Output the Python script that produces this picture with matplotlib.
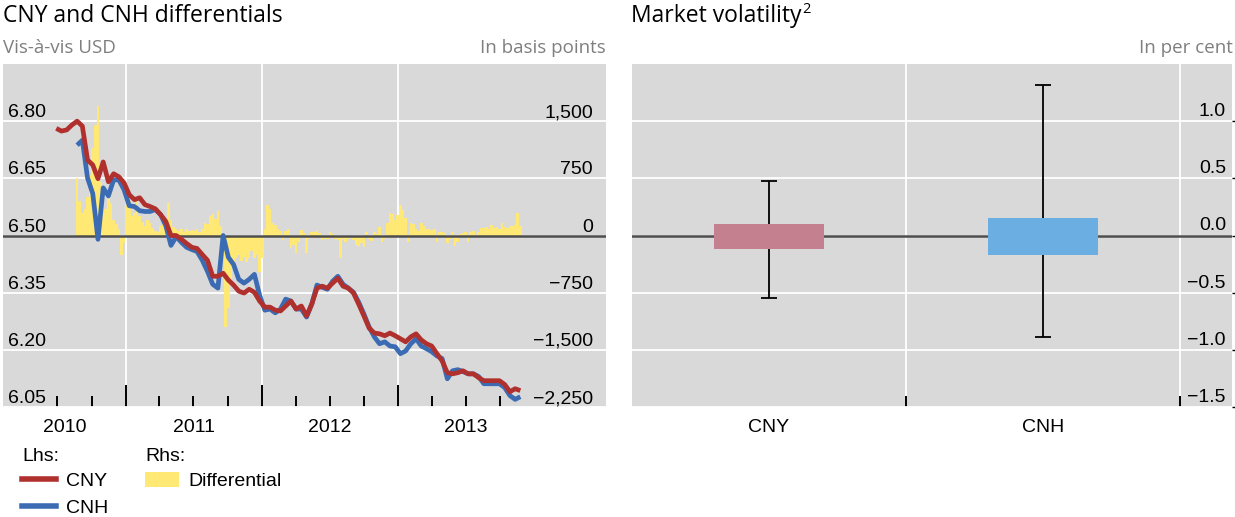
import matplotlib
matplotlib.use("Agg")
import matplotlib.pyplot as plt
import matplotlib.dates as mdates
import matplotlib.transforms as mtransforms
from matplotlib.lines import Line2D
from matplotlib.patches import Patch
import numpy as np
import pandas as pd

# ---------------- data ----------------
line_dates = pd.date_range("2010-06-28", periods=90, freq="14D")
cny = [6.781, 6.774, 6.777, 6.790, 6.800, 6.787, 6.698, 6.685, 6.649, 6.693,
       6.641, 6.662, 6.654, 6.638, 6.607, 6.594, 6.599, 6.581, 6.576, 6.570,
       6.555, 6.537, 6.500, 6.500, 6.490, 6.479, 6.469, 6.466, 6.450, 6.435,
       6.393, 6.393, 6.401, 6.383, 6.370, 6.354, 6.349, 6.359, 6.351, 6.328,
       6.312, 6.312, 6.304, 6.302, 6.315, 6.328, 6.307, 6.315, 6.289, 6.320,
       6.362, 6.367, 6.362, 6.375, 6.388, 6.367, 6.362, 6.349, 6.320, 6.289,
       6.257, 6.244, 6.242, 6.237, 6.244, 6.237, 6.229, 6.221, 6.234, 6.242,
       6.226, 6.216, 6.210, 6.190, 6.171, 6.140, 6.137, 6.140, 6.145, 6.137,
       6.137, 6.127, 6.119, 6.119, 6.119, 6.119, 6.109, 6.090, 6.098, 6.093]

cnh_dates = pd.date_range("2010-08-23", periods=86, freq="14D")
cnh = [6.737, 6.750, 6.651, 6.610, 6.490, 6.625,
       6.604, 6.646, 6.646, 6.620, 6.578, 6.576, 6.565, 6.563, 6.563, 6.568,
       6.555, 6.526, 6.474, 6.497, 6.482, 6.469, 6.463, 6.458, 6.435, 6.406,
       6.372, 6.362, 6.500, 6.443, 6.424, 6.385, 6.375, 6.385, 6.398, 6.343,
       6.304, 6.307, 6.297, 6.307, 6.333, 6.328, 6.307, 6.307, 6.286, 6.320,
       6.370, 6.364, 6.359, 6.380, 6.393, 6.372, 6.362, 6.351, 6.325, 6.294,
       6.260, 6.234, 6.216, 6.221, 6.210, 6.208, 6.190, 6.197, 6.216, 6.229,
       6.210, 6.203, 6.195, 6.184, 6.177, 6.124, 6.145, 6.148, 6.143, 6.137,
       6.137, 6.130, 6.111, 6.111, 6.111, 6.111, 6.101, 6.080, 6.070, 6.077]

diff_dates = pd.date_range("2010-08-23", periods=171, freq="7D")
differential = [750, 450, 300, 350, 500, 800, 1150, 1450, 1700, 700,
                450, 350, 480, 420, 200, 150, 80, -250, -100, 600,
                450, 250, 300, 470, 250, 180, 120, 200, 170, 100,
                60, 40, 120, 150, 200, 420, 200, 110, 80, 60,
                80, 50, 90, 60, 70, 60, 80, 50, 90, 170,
                150, 250, 280, 220, 320, 120, -100, -1200, -950, -600,
                -380, -300, -250, -330, -280, -350, -300, -200, -300, -250,
                -480, -300, 80, 400, 350, 170, 140, 90, 60, -60,
                60, 90, -160, -120, -230, -90, 70, 30, -230, -40,
                50, 40, 60, 30, -60, -50, -40, 40, 20, -50,
                -60, -300, -50, -80, -40, -30, -60, -130, -140, -100,
                -150, 50, -40, -70, 50, 20, 110, -80, -40, 160,
                300, 280, 200, 270, 400, 330, 230, -90, 160, 150,
                80, 60, 170, 120, 90, 80, 70, 90, -80, 40,
                50, 30, -100, -40, 50, -140, -90, 20, 30, 40,
                -80, 40, 60, -20, 50, 100, 100, 110, 90, 140,
                100, 110, 90, 170, 110, 100, 120, 130, 140, 290,
                120]

year_labels = ["2010", "2011", "2012", "2013"]
lhs_ticks = [6.05, 6.20, 6.35, 6.50, 6.65, 6.80]
lhs_labels = ["6.05", "6.20", "6.35", "6.50", "6.65", "6.80"]
rhs_ticks = [-2250, -1500, -750, 0, 750, 1500]
rhs_labels = ["\u22122,250", "\u22121,500", "\u2212750", "0", "750", "1,500"]

vol_categories = ["CNY", "CNH"]
vol_box_low = [-0.12, -0.17]
vol_box_high = [0.10, 0.15]
vol_whisker_low = [-0.55, -0.89]
vol_whisker_high = [0.48, 1.32]
vol_ticks = [-1.5, -1.0, -0.5, 0.0, 0.5, 1.0]
vol_labels = ["\u22121.5", "\u22121.0", "\u22120.5", "0.0", "0.5", "1.0"]

# ---------------- style ----------------
RED = "#B0302E"
BLUE = "#3B6CB3"
YELLOW = "#FFE873"
BG = "#D9D9D9"
GREY_TXT = "#7F7F7F"
ZERO = "#4D4D4D"
CNY_BAR = "#C4808E"
CNH_BAR = "#6AAEE2"
NUMFONT = "Liberation Sans"
TITLEFONT = "Open Sans"
FS = 14

plt.rcParams["font.family"] = [NUMFONT, "DejaVu Sans"]

W, H = 1235, 517
fig = plt.figure(figsize=(W / 100, H / 100), dpi=100)


def rect(x0, y0, x1, y1):
    return [x0 / W, 1 - y1 / H, (x1 - x0) / W, (y1 - y0) / H]


def inside_labels(ax, ticks, labels, side, inset_px, raise_px):
    base = ax.get_yaxis_transform()
    dx = inset_px if side == "left" else -inset_px
    tr = mtransforms.offset_copy(base, fig=fig, x=dx, y=raise_px, units="dots")
    for t, lab in zip(ticks, labels):
        ax.text(0 if side == "left" else 1, t, lab, transform=tr, ha=side,
                va="baseline", fontsize=FS, color="black", zorder=6)


# ---------------- left panel ----------------
ax_r = fig.add_axes(rect(3, 64, 606, 407))
ax_r.set_facecolor(BG)
ax_l = ax_r.twinx()

ax_r.bar(diff_dates, differential, width=7, color=YELLOW, linewidth=0, zorder=1)
ax_r.axhline(0, color=ZERO, lw=1.8, zorder=3)
ax_r.set_ylim(-2250, 2250)
ax_r.set_yticks(rhs_ticks)

ax_l.plot(cnh_dates, cnh, color=BLUE, lw=3.4, solid_capstyle="butt", zorder=2)
ax_l.plot(line_dates, cny, color=RED, lw=3.4, solid_capstyle="butt", zorder=3)
ax_l.set_ylim(6.05, 6.95)
ax_l.set_yticks(lhs_ticks)

ax_r.set_xlim(pd.Timestamp("2010-02-05"), pd.Timestamp("2014-07-13"))
major = [mdates.date2num(pd.Timestamp(f"{y}-01-01")) for y in (2011, 2012, 2013)]
minor = [mdates.date2num(d) for d in pd.date_range("2010-07-01", "2013-10-01", freq="QS")
         if d.month != 1]
ax_r.xaxis.set_major_locator(matplotlib.ticker.FixedLocator(major))
ax_r.xaxis.set_minor_locator(matplotlib.ticker.FixedLocator(minor))
ax_r.tick_params(axis="x", which="major", direction="in", length=16, width=1.4,
                 color="black", labelbottom=False)
ax_r.tick_params(axis="x", which="minor", direction="in", length=8, width=1.4,
                 color="black", labelbottom=False)
for a in (ax_r, ax_l):
    a.tick_params(axis="y", which="both", length=0, labelleft=False, labelright=False)
    for s in a.spines.values():
        s.set_visible(False)
ax_r.set_axisbelow(True)
ax_r.grid(True, which="major", axis="both", color="white", lw=1.3)

inside_labels(ax_l, lhs_ticks, lhs_labels, "left", 5, 4)
inside_labels(ax_r, rhs_ticks, rhs_labels, "right", 13, 4)

# year labels centred on the visible part of each year
xl0, xl1 = ax_r.get_xlim()
ytr = mtransforms.offset_copy(ax_r.get_xaxis_transform(), fig=fig, y=-12, units="dots")
for lab in year_labels:
    y = int(lab)
    a0 = max(mdates.date2num(pd.Timestamp(f"{y}-01-01")), xl0)
    a1 = min(mdates.date2num(pd.Timestamp(f"{y + 1}-01-01")), xl1)
    ax_r.text((a0 + a1) / 2, 0, lab, transform=ytr, ha="center", va="top", fontsize=FS)

# ---------------- right panel ----------------
axv = fig.add_axes(rect(632, 64, 1232, 407))
axv.set_facecolor(BG)
xpos = np.arange(len(vol_categories))
box_low = np.array(vol_box_low)
box_high = np.array(vol_box_high)
wlo = np.array(vol_whisker_low)
whi = np.array(vol_whisker_high)
mid = (box_low + box_high) / 2
axv.errorbar(xpos, mid, yerr=[mid - wlo, whi - mid], fmt="none", ecolor="black",
             elinewidth=1.3, capsize=5.5, capthick=1.3, zorder=2)
axv.bar(xpos, box_high - box_low, bottom=box_low, width=0.4,
        color=[CNY_BAR, CNH_BAR], linewidth=0, zorder=3)
axv.axhline(0, color=ZERO, lw=1.8, zorder=1.5)
axv.set_xlim(-0.5, 1.69)
axv.set_ylim(-1.5, 1.5)
axv.set_yticks(vol_ticks)
axv.set_xticks(xpos)
axv.set_xticklabels(vol_categories, fontsize=FS)
axv.set_xticks([0.5, 1.5], minor=True)
axv.tick_params(axis="x", which="major", length=0, pad=9)
axv.tick_params(axis="x", which="minor", direction="in", length=8, width=1.4, color="black")
axv.tick_params(axis="y", which="both", left=False, right=True, length=2, width=1,
                labelleft=False, labelright=False)
for s in axv.spines.values():
    s.set_visible(False)
axv.set_axisbelow(True)
axv.grid(True, which="major", axis="y", color="white", lw=1.3)
axv.grid(True, which="minor", axis="x", color="white", lw=1.3)
inside_labels(axv, vol_ticks, vol_labels, "right", 6, 5)

# ---------------- titles ----------------
fig.text(3 / W, 1 - 4 / H, "CNY and CNH differentials", ha="left", va="top",
         fontsize=16.5, family=TITLEFONT, color="black")
fig.text(3 / W, 1 - 39 / H, "Vis-\u00e0-vis USD", ha="left", va="top",
         fontsize=13.5, family=TITLEFONT, color=GREY_TXT)
fig.text(606 / W, 1 - 39 / H, "In basis points", ha="right", va="top",
         fontsize=13.5, family=TITLEFONT, color=GREY_TXT)
t_mv = fig.text(631 / W, 1 - 4 / H, "Market volatility", ha="left", va="top",
                fontsize=16.5, family=TITLEFONT, color="black")
fig.text(1233 / W, 1 - 39 / H, "In per cent", ha="right", va="top",
         fontsize=13.5, family=TITLEFONT, color=GREY_TXT)
fig.canvas.draw()
bb = t_mv.get_window_extent()
fig.text((bb.x1 + 1) / W, (bb.y1 + 2) / H, "2", ha="left", va="top",
         fontsize=10.5, family=TITLEFONT, color="black")

# ---------------- legends ----------------
leg1 = fig.legend([Line2D([], [], color=RED, lw=4), Line2D([], [], color=BLUE, lw=4)],
                  ["CNY", "CNH"], title="Lhs:", loc="upper left",
                  bbox_to_anchor=(22 / W, 1 - 448 / H), frameon=False, alignment="left",
                  fontsize=FS, title_fontsize=FS, handlelength=1.75, handletextpad=0.5,
                  labelspacing=0.5, borderpad=0, borderaxespad=0)
leg1._legend_box.sep = 5
leg2 = fig.legend([Patch(facecolor=YELLOW, edgecolor="none")], ["Differential"],
                  title="Rhs:", loc="upper left", bbox_to_anchor=(145 / W, 1 - 448 / H),
                  frameon=False, alignment="left", fontsize=FS, title_fontsize=FS,
                  handlelength=1.75, handleheight=0.8, handletextpad=0.5,
                  borderpad=0, borderaxespad=0)
leg2._legend_box.sep = 5

fig.savefig("out.png", dpi=100)
